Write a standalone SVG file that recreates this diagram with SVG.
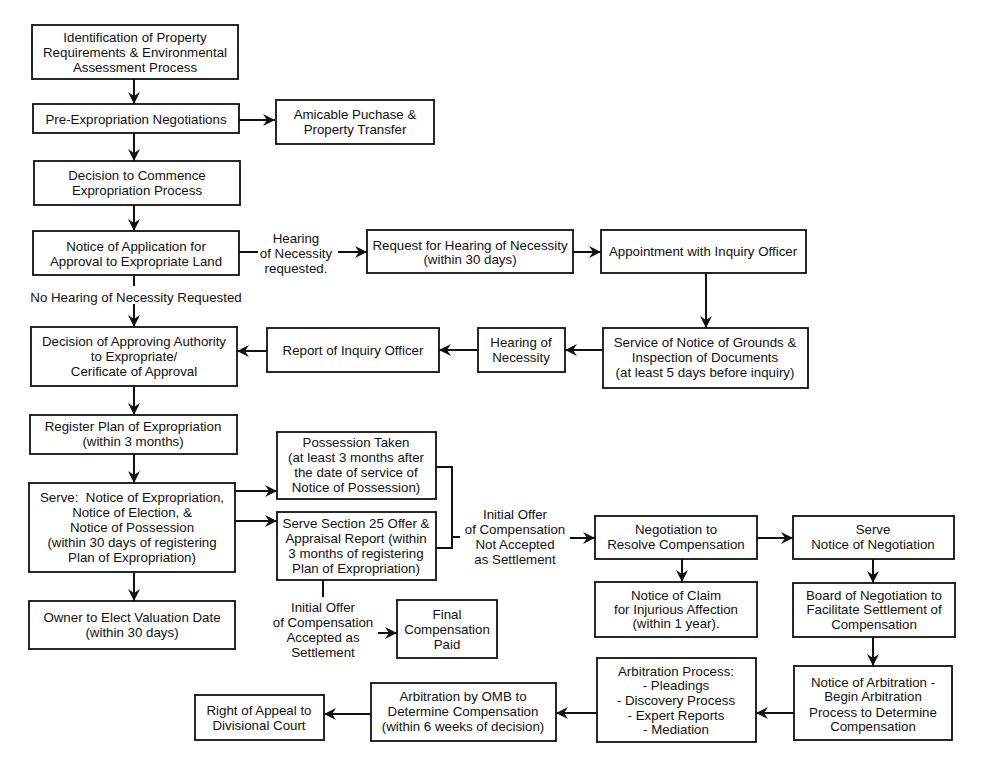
<svg xmlns="http://www.w3.org/2000/svg" width="990" height="768" viewBox="0 0 990 768">
<defs>
<style>
.b{fill:#fff;stroke:#111;stroke-width:1.8}
.t{font-family:"Liberation Sans",Arial,sans-serif;font-size:13.3px;fill:#111;text-anchor:middle}
.c{fill:none;stroke:#111;stroke-width:2}
</style>
<marker id="ah" viewBox="0 0 12 12" refX="12" refY="6" markerWidth="12" markerHeight="12" markerUnits="userSpaceOnUse" orient="auto"><path d="M0,0 L12,6 L0,12 L4,6 z" fill="#111"/></marker>
</defs>
<rect width="990" height="768" fill="#fff"/>
<g id="connectors">
<path class="c" d="M134,79 V104" marker-end="url(#ah)"/>
<path class="c" d="M239,120 H275" marker-end="url(#ah)"/>
<path class="c" d="M134,133 V161" marker-end="url(#ah)"/>
<path class="c" d="M134,205 V231" marker-end="url(#ah)"/>
<path class="c" d="M239,252 H258"/>
<path class="c" d="M338,252 H367" marker-end="url(#ah)"/>
<path class="c" d="M573,252 H601" marker-end="url(#ah)"/>
<path class="c" d="M706,273 V328" marker-end="url(#ah)"/>
<path class="c" d="M603,350 H565" marker-end="url(#ah)"/>
<path class="c" d="M478,350 H439" marker-end="url(#ah)"/>
<path class="c" d="M267,351 H237" marker-end="url(#ah)"/>
<path class="c" d="M134,275 V286"/>
<path class="c" d="M134,304 V327" marker-end="url(#ah)"/>
<path class="c" d="M134,386 V415" marker-end="url(#ah)"/>
<path class="c" d="M134,454 V483" marker-end="url(#ah)"/>
<path class="c" d="M235,491 H277" marker-end="url(#ah)"/>
<path class="c" d="M235,521 H277" marker-end="url(#ah)"/>
<path class="c" d="M134,572 V601" marker-end="url(#ah)"/>
<path class="c" d="M436,467 H452 V548 H436"/>
<path class="c" d="M452,537 H460"/>
<path class="c" d="M570,538 H595" marker-end="url(#ah)"/>
<path class="c" d="M323,580 V597"/>
<path class="c" d="M378,633 H397" marker-end="url(#ah)"/>
<path class="c" d="M757,538 H793" marker-end="url(#ah)"/>
<path class="c" d="M682,559 V582" marker-end="url(#ah)"/>
<path class="c" d="M873,559 V583" marker-end="url(#ah)"/>
<path class="c" d="M873,637 V666" marker-end="url(#ah)"/>
<path class="c" d="M794,713 H756" marker-end="url(#ah)"/>
<path class="c" d="M597,713 H556" marker-end="url(#ah)"/>
<path class="c" d="M371,714 H324" marker-end="url(#ah)"/>
<text class="t"><tspan x="296" y="243">Hearing</tspan><tspan x="296" y="258">of Necessity</tspan><tspan x="296" y="273">requested.</tspan></text>
<text class="t" x="136" y="302">No Hearing of Necessity Requested</text>
<text class="t"><tspan x="515" y="519">Initial Offer</tspan><tspan x="515" y="534">of Compensation</tspan><tspan x="515" y="549">Not Accepted</tspan><tspan x="515" y="564">as Settlement</tspan></text>
<text class="t"><tspan x="323" y="612">Initial Offer</tspan><tspan x="323" y="627">of Compensation</tspan><tspan x="323" y="642">Accepted as</tspan><tspan x="323" y="657">Settlement</tspan></text>
</g>
<g id="n1"><rect class="b" x="32" y="25" width="206" height="54"/><text class="t"><tspan x="135" y="42">Identification of Property</tspan><tspan x="135" y="57">Requirements &amp; Environmental</tspan><tspan x="135" y="72">Assessment Process</tspan></text></g>
<g id="n2"><rect class="b" x="33" y="104" width="206" height="29"/><text class="t" x="136" y="124">Pre-Expropriation Negotiations</text></g>
<g id="n3"><rect class="b" x="276" y="100" width="158" height="44"/><text class="t"><tspan x="355" y="119">Amicable Puchase &amp;</tspan><tspan x="355" y="134">Property Transfer</tspan></text></g>
<g id="n4"><rect class="b" x="34" y="161" width="206" height="44"/><text class="t"><tspan x="137" y="180">Decision to Commence</tspan><tspan x="137" y="195">Expropriation Process</tspan></text></g>
<g id="n5"><rect class="b" x="33" y="231" width="206" height="44"/><text class="t"><tspan x="136" y="251">Notice of Application for</tspan><tspan x="136" y="266">Approval to Expropriate Land</tspan></text></g>
<g id="n6"><rect class="b" x="367" y="230" width="206" height="43"/><text class="t"><tspan x="470" y="250">Request for Hearing of Necessity</tspan><tspan x="470" y="264">(within 30 days)</tspan></text></g>
<g id="n7"><rect class="b" x="601" y="230" width="205" height="43"/><text class="t" x="703" y="256">Appointment with Inquiry Officer</text></g>
<g id="n8"><rect class="b" x="603" y="328" width="205" height="60"/><text class="t"><tspan x="705" y="347">Service of Notice of Grounds &amp;</tspan><tspan x="705" y="362">Inspection of Documents</tspan><tspan x="705" y="377">(at least 5 days before inquiry)</tspan></text></g>
<g id="n9"><rect class="b" x="478" y="328" width="87" height="44"/><text class="t"><tspan x="521" y="347">Hearing of</tspan><tspan x="521" y="362">Necessity</tspan></text></g>
<g id="n10"><rect class="b" x="267" y="328" width="172" height="44"/><text class="t" x="353" y="355">Report of Inquiry Officer</text></g>
<g id="n11"><rect class="b" x="31" y="327" width="206" height="59"/><text class="t"><tspan x="134" y="346">Decision of Approving Authority</tspan><tspan x="134" y="361">to Expropriate/</tspan><tspan x="134" y="376">Cerificate of Approval</tspan></text></g>
<g id="n12"><rect class="b" x="30" y="415" width="207" height="39"/><text class="t"><tspan x="133" y="431">Register Plan of Expropriation</tspan><tspan x="133" y="446">(within 3 months)</tspan></text></g>
<g id="n13"><rect class="b" x="29" y="483" width="206" height="89"/><text class="t"><tspan x="132" y="502">Serve:&#160; Notice of Expropriation,</tspan><tspan x="132" y="517">Notice of Election, &amp;</tspan><tspan x="132" y="532">Notice of Possession</tspan><tspan x="132" y="547">(within 30 days of registering</tspan><tspan x="132" y="562">Plan of Expropriation)</tspan></text></g>
<g id="n14"><rect class="b" x="29" y="601" width="206" height="48"/><text class="t"><tspan x="132" y="622">Owner to Elect Valuation Date</tspan><tspan x="132" y="637">(within 30 days)</tspan></text></g>
<g id="n15"><rect class="b" x="277" y="432" width="159" height="67"/><text class="t"><tspan x="356" y="447">Possession Taken</tspan><tspan x="356" y="462">(at least 3 months after</tspan><tspan x="356" y="477">the date of service of</tspan><tspan x="356" y="492">Notice of Possession)</tspan></text></g>
<g id="n16"><rect class="b" x="277" y="512" width="159" height="68"/><text class="t"><tspan x="356" y="528">Serve Section 25 Offer &amp;</tspan><tspan x="356" y="543">Appraisal Report (within</tspan><tspan x="356" y="558">3 months of registering</tspan><tspan x="356" y="573">Plan of Expropriation)</tspan></text></g>
<g id="n17"><rect class="b" x="397" y="600" width="100" height="58"/><text class="t"><tspan x="447" y="619">Final</tspan><tspan x="447" y="634">Compensation</tspan><tspan x="447" y="649">Paid</tspan></text></g>
<g id="n18"><rect class="b" x="595" y="516" width="162" height="43"/><text class="t"><tspan x="676" y="534">Negotiation to</tspan><tspan x="676" y="549">Resolve Compensation</tspan></text></g>
<g id="n19"><rect class="b" x="793" y="516" width="161" height="43"/><text class="t"><tspan x="873" y="534">Serve</tspan><tspan x="873" y="549">Notice of Negotiation</tspan></text></g>
<g id="n20"><rect class="b" x="595" y="582" width="162" height="55"/><text class="t"><tspan x="676" y="600">Notice of Claim</tspan><tspan x="676" y="614">for Injurious Affection</tspan><tspan x="676" y="628">(within 1 year).</tspan></text></g>
<g id="n21"><rect class="b" x="793" y="583" width="162" height="54"/><text class="t"><tspan x="874" y="600">Board of Negotiation to</tspan><tspan x="874" y="614">Facilitate Settlement of</tspan><tspan x="874" y="629">Compensation</tspan></text></g>
<g id="n22"><rect class="b" x="794" y="666" width="158" height="74"/><text class="t"><tspan x="873" y="687">Notice of Arbitration -</tspan><tspan x="873" y="701">Begin Arbitration</tspan><tspan x="873" y="717">Process to Determine</tspan><tspan x="873" y="731">Compensation</tspan></text></g>
<g id="n23"><rect class="b" x="597" y="658" width="159" height="84"/><text class="t"><tspan x="676" y="676">Arbitration Process:</tspan><tspan x="676" y="690">- Pleadings</tspan><tspan x="676" y="705">- Discovery Process</tspan><tspan x="676" y="720">- Expert Reports</tspan><tspan x="676" y="734">- Mediation</tspan></text></g>
<g id="n24"><rect class="b" x="371" y="683" width="185" height="58"/><text class="t"><tspan x="463" y="701">Arbitration by OMB to</tspan><tspan x="463" y="716">Determine Compensation</tspan><tspan x="463" y="731">(within 6 weeks of decision)</tspan></text></g>
<g id="n25"><rect class="b" x="195" y="695" width="129" height="45"/><text class="t"><tspan x="259" y="715">Right of Appeal to</tspan><tspan x="259" y="730">Divisional Court</tspan></text></g>
</svg>
